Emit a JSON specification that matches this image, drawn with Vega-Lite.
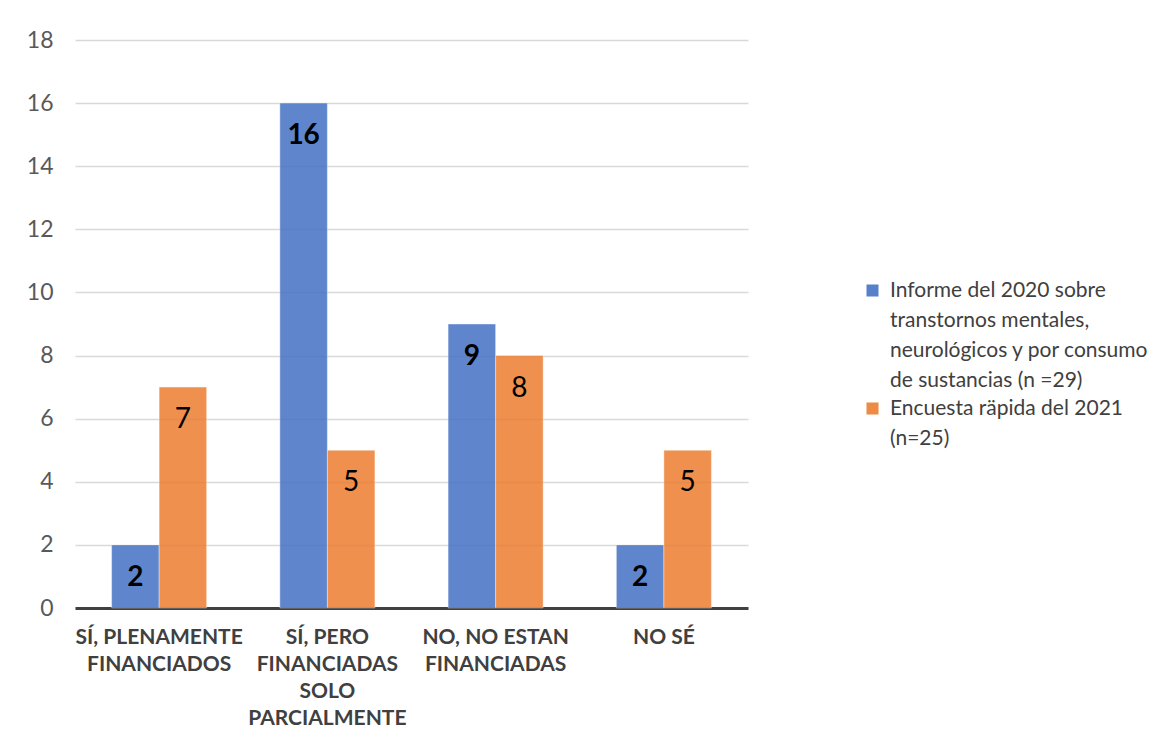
{
  "$schema": "https://vega.github.io/schema/vega-lite/v6.json",
  "autosize": {"type": "none"},
  "width": 673,
  "height": 568,
  "padding": {"left": 75, "top": 40, "right": 421, "bottom": 142},
  "background": "white",
  "config": {
    "font": "Lato",
    "view": {"stroke": null},
    "style": {"guide-label": {"lineHeight": 30}}
  },
  "data": {
    "values": [
      {"cat": "SÍ, PLENAMENTE FINANCIADOS", "serie": "Informe", "valor": 2},
      {"cat": "SÍ, PLENAMENTE FINANCIADOS", "serie": "Encuesta", "valor": 7},
      {"cat": "SÍ, PERO FINANCIADAS SOLO PARCIALMENTE", "serie": "Informe", "valor": 16},
      {"cat": "SÍ, PERO FINANCIADAS SOLO PARCIALMENTE", "serie": "Encuesta", "valor": 5},
      {"cat": "NO, NO ESTAN FINANCIADAS", "serie": "Informe", "valor": 9},
      {"cat": "NO, NO ESTAN FINANCIADAS", "serie": "Encuesta", "valor": 8},
      {"cat": "NO SÉ", "serie": "Informe", "valor": 2},
      {"cat": "NO SÉ", "serie": "Encuesta", "valor": 5}
    ]
  },
  "encoding": {
    "x": {
      "field": "cat",
      "type": "nominal",
      "sort": null,
      "scale": {"paddingInner": 0.435, "paddingOuter": 0.2175},
      "axis": {
        "title": null,
        "labelAngle": 0,
        "labelFont": "Lato",
        "labelFontWeight": "bold",
        "labelFontSize": 21,
        "labelColor": "#404040",
        "labelLineHeight": 27,
        "labelPadding": 18,
        "labelLimit": 300,
        "ticks": false,
        "domainColor": "#404040",
        "domainWidth": 3,
        "labelExpr": "datum.value == 'SÍ, PLENAMENTE FINANCIADOS' ? ['SÍ, PLENAMENTE', 'FINANCIADOS'] : datum.value == 'SÍ, PERO FINANCIADAS SOLO PARCIALMENTE' ? ['SÍ, PERO', 'FINANCIADAS', 'SOLO', 'PARCIALMENTE'] : datum.value == 'NO, NO ESTAN FINANCIADAS' ? ['NO, NO ESTAN', 'FINANCIADAS'] : datum.value"
      }
    },
    "xOffset": {"field": "serie", "type": "nominal", "sort": ["Informe", "Encuesta"], "scale": {"paddingInner": 0, "paddingOuter": 0}},
    "y": {
      "field": "valor",
      "type": "quantitative",
      "scale": {"domain": [0, 18], "nice": false},
      "axis": {
        "title": null,
        "values": [0, 2, 4, 6, 8, 10, 12, 14, 16, 18],
        "domain": false,
        "ticks": false,
        "labelFont": "Lato",
        "labelFontSize": 23,
        "labelColor": "#595959",
        "labelPadding": 22,
        "labelLineHeight": 23,
        "gridColor": "#D9D9D9",
        "gridWidth": 1.5
      }
    }
  },
  "layer": [
    {
      "mark": {"type": "bar", "opacity": 0.85, "stroke": "white", "strokeWidth": 1, "strokeOpacity": 0.4},
      "encoding": {
        "color": {
          "field": "serie",
          "type": "nominal",
          "sort": ["Informe", "Encuesta"],
          "scale": {"domain": ["Informe", "Encuesta"], "range": ["#4472C4", "#ED7D31"]},
          "legend": {
            "title": null,
            "orient": "none",
            "legendX": 787,
            "legendY": 240,
            "symbolType": "square",
            "symbolSize": 144,
            "symbolOpacity": 0.9,
            "symbolStrokeWidth": 0,
            "labelFont": "Lato",
            "labelFontSize": 21,
            "labelColor": "#404040",
            "labelOffset": 7,
            "labelLimit": 400,
            "rowPadding": 6,
            "labelExpr": "datum.value == 'Informe' ? ['Informe del 2020 sobre', 'transtornos mentales,', 'neurológicos y por consumo', 'de sustancias (n =29)'] : ['Encuesta räpida del 2021', '(n=25)']"
          }
        }
      }
    },
    {
      "transform": [{"filter": "datum.serie == 'Informe'"}],
      "mark": {"type": "text", "baseline": "middle", "dy": 33, "fontSize": 28, "fontWeight": "bold", "color": "black", "font": "Lato"},
      "encoding": {"text": {"field": "valor", "type": "quantitative"}}
    },
    {
      "transform": [{"filter": "datum.serie == 'Encuesta'"}],
      "mark": {"type": "text", "baseline": "middle", "dy": 33, "fontSize": 28, "color": "black", "font": "Lato"},
      "encoding": {"text": {"field": "valor", "type": "quantitative"}}
    }
  ]
}
